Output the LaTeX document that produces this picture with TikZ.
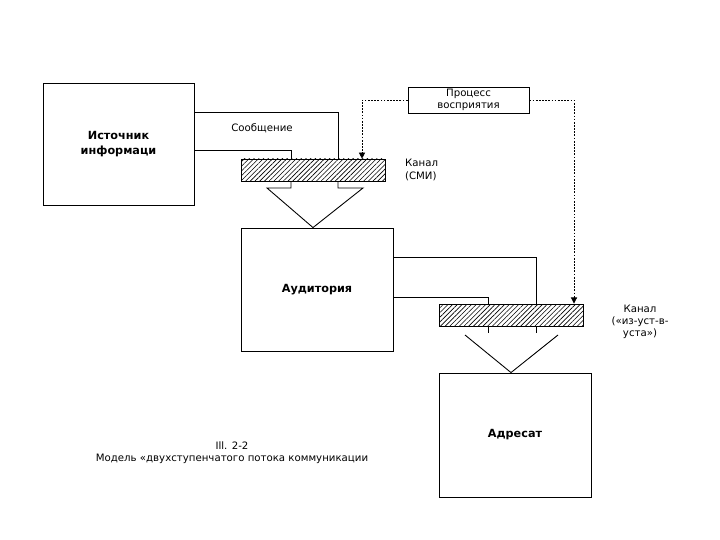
\documentclass[tikz,border=0pt]{standalone}
\usepackage{fontspec}
\setmainfont{DejaVu Sans}
\usepackage{tikz}
\usetikzlibrary{arrows.meta, positioning, patterns.meta, calc}

\begin{document}
\begin{tikzpicture}[x=0.02cm, y=-0.02cm,
        box/.style={draw, line width=0.5pt, inner sep=0pt, align=center, font=\fontsize{6.4}{8.5}\selectfont\bfseries},
        channel/.style={draw, line width=0.5pt, pattern={Lines[angle=45, distance=1.9pt, line width=0.35pt]}, minimum width=2.88cm, minimum height=0.44cm, inner sep=0pt},
        txt/.style={font=\fontsize{5.8}{7}\selectfont, align=center, inner sep=1pt},
        wire/.style={line width=0.5pt},
        dashline/.style={line width=0.5pt, dash pattern=on 1pt off 0.8pt, -{Triangle[length=3.5pt, width=3.5pt]}}
    ]
        \useasboundingbox (0,0) rectangle (720,540);

        % Boxes
        \node[box, minimum width=3.02cm, minimum height=2.44cm] (src) at (118.5,144) {Источник\\информаци};
        \node[box, minimum width=3.04cm, minimum height=2.46cm] (aud) at (317,289.5) {Аудитория};
        \node[box, minimum width=3.04cm, minimum height=2.48cm] (adr) at (515,435) {Адресат};
        \node[box, txt, minimum width=2.42cm, minimum height=0.52cm] (proc) at (468.5,100) {Процесс\\восприятия};

        % Channels
        \node[channel] (ch1) at (313,170) {};
        \node[channel] (ch2) at (511,315) {};
        \node[txt, align=left, anchor=west] (ch1lab) at (403,170) {Канал\\(СМИ)};
        \node[txt] (ch2lab) at (640,322) {Канал\\(«из-уст-в-\\уста»)};

        % Message: source -> channel 1
        \coordinate (m1) at (338,112);
        \coordinate (m2) at (291,150);
        \draw[wire] (src.east |- m1) -| (ch1.north -| m1);
        \draw[wire] (src.east |- m2) -| (ch1.north -| m2);
        \node[txt] (msg) at (262,128) {Сообщение};

        % Channel 1 -> audience
        \coordinate (v1l) at (267,188);
        \coordinate (v1r) at (363,188);
        \coordinate (peak1) at (ch1.south |- aud.north);
        \draw[wire] (ch1.south -| m2) |- (v1l) -- (peak1);
        \draw[wire] (ch1.south -| m1) |- (v1r) -- (peak1);

        % Audience -> channel 2
        \coordinate (a1) at (536,257);
        \coordinate (a2) at (488,297);
        \draw[wire] (aud.east |- a1) -| (ch2.north -| a1);
        \draw[wire] (aud.east |- a2) -| (ch2.north -| a2);

        % Channel 2 -> addressee
        \coordinate (v2l) at (465,335);
        \coordinate (v2r) at (558,335);
        \coordinate (peak2) at (ch2.south |- adr.north);
        \draw[wire] (ch2.south -| a2) -- ++(0,7);
        \draw[wire] (ch2.south -| a1) -- ++(0,7);
        \draw[wire] (v2l) -- (peak2) -- (v2r);

        % Perception process
        \coordinate (p1) at (362,100);
        \coordinate (p2) at (574,100);
        \draw[dashline] (proc.west) -| (ch1.north -| p1);
        \draw[dashline] (proc.east) -| (ch2.north -| p2);

        % Caption
        \node[txt] (cap) at (232,453) {Ill. 2-2\\Модель «двухступенчатого потока коммуникации};
    \end{tikzpicture}
\end{document}
